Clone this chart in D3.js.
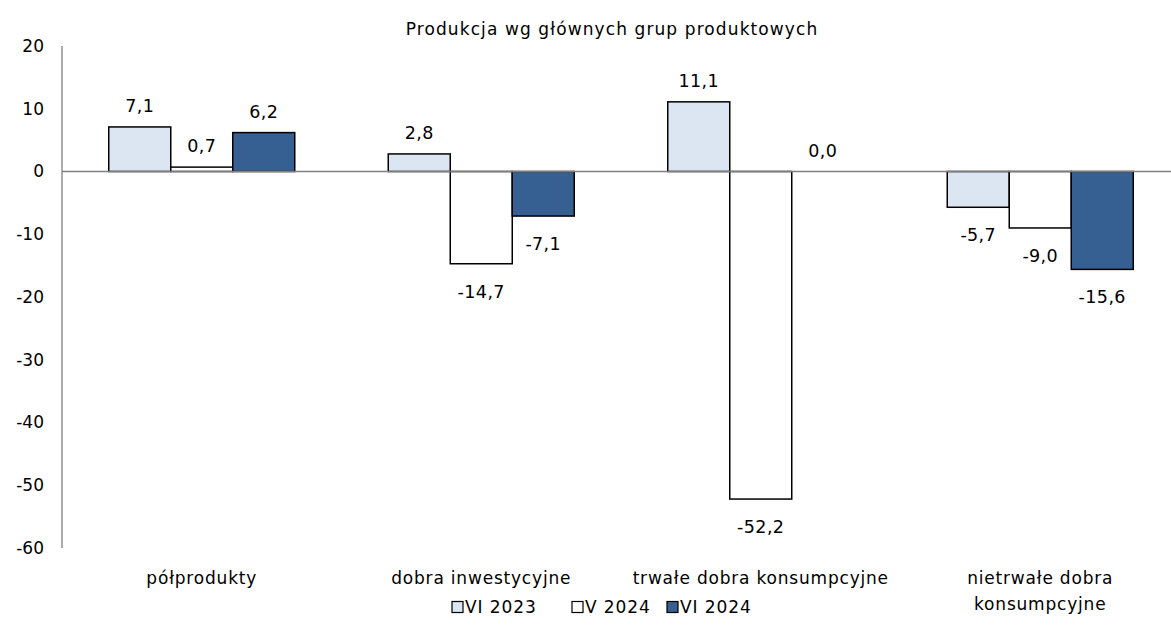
<!DOCTYPE html>
<html>
<head>
<meta charset="utf-8">
<script src="https://d3js.org/d3.v7.min.js"></script>
<style>
  body { margin: 0; background: #fff; }
  text { font-family: "DejaVu Sans", Verdana, sans-serif; fill: #000; }
</style>
</head>
<body>
<svg id="chart" width="1171" height="628"></svg>
<script>
  const categories = ["półprodukty", "dobra inwestycyjne", "trwałe dobra konsumpcyjne", "nietrwałe dobra|konsumpcyjne"];
  const seriesNames = ["VI 2023", "V 2024", "VI 2024"];
  const vi2023 = [7.1, 2.8, 11.1, -5.7];
  const v2024 = [0.7, -14.7, -52.2, -9.0];
  const vi2024 = [6.2, -7.1, 0.0, -15.6];
  const yTicks = [20, 10, 0, -10, -20, -30, -40, -50, -60];
  const colors = ["#dce6f2", "#ffffff", "#376092"];

  const series = [vi2023, v2024, vi2024];
  const svg = d3.select("#chart");
  const plotLeft = 62, plotRight = 1180, plotTop = 46, plotBottom = 548;

  const x = d3.scaleBand().domain(categories).range([plotLeft, plotRight]);
  const x1 = d3.scaleBand().domain(seriesNames).range([0, 186]);
  const y = d3.scaleLinear().domain([-60, 20]).range([plotBottom, plotTop]);

  // title
  svg.append("text")
    .attr("x", 612).attr("y", 35)
    .attr("text-anchor", "middle")
    .style("font-size", "17px")
    .style("letter-spacing", "1.1px")
    .text("Produkcja wg głównych grup produktowych");

  // y axis
  svg.append("line")
    .attr("x1", plotLeft).attr("x2", plotLeft)
    .attr("y1", y(20)).attr("y2", y(-60))
    .attr("stroke", "#808080").attr("stroke-width", 1.3);

  svg.selectAll(".ytick").data(yTicks).enter().append("text")
    .attr("class", "ytick")
    .attr("x", 44).attr("y", d => y(d))
    .attr("dy", "0.35em")
    .attr("text-anchor", "end")
    .style("font-size", "17px")
    .text(d => d);

  // bars
  const groups = svg.selectAll(".grp").data(categories).enter().append("g")
    .attr("class", "grp")
    .attr("transform", d => `translate(${x(d) + x.bandwidth() / 2 - 93},0)`);

  groups.each(function (c, ci) {
    const g = d3.select(this);
    seriesNames.forEach((s, si) => {
      const v = series[si][ci];
      g.append("rect")
        .attr("x", x1(s))
        .attr("y", y(Math.max(0, v)))
        .attr("width", x1.bandwidth())
        .attr("height", Math.abs(y(v) - y(0)))
        .attr("fill", colors[si])
        .attr("stroke", "#000")
        .attr("stroke-width", 1.5);
      g.append("text")
        .attr("x", x1(s) + x1.bandwidth() / 2)
        .attr("y", v >= 0 ? y(v) - 15 : y(v) + 34)
        .attr("text-anchor", "middle")
        .style("font-size", "17.5px")
        .style("letter-spacing", "0.4px")
        .text(v.toFixed(1).replace(".", ","));
    });
  });

  // zero line
  svg.append("line")
    .attr("x1", plotLeft).attr("x2", 1171)
    .attr("y1", y(0)).attr("y2", y(0))
    .attr("stroke", "#808080").attr("stroke-width", 1.3);

  // category labels
  svg.selectAll(".cat").data(categories).enter().append("text")
    .attr("class", "cat")
    .attr("text-anchor", "middle")
    .style("font-size", "17px")
    .style("letter-spacing", "0.8px")
    .each(function (d) {
      const t = d3.select(this);
      d.split("|").forEach((line, i) => {
        t.append("tspan")
          .attr("x", x(d) + x.bandwidth() / 2)
          .attr("y", 584 + i * 26)
          .text(line);
      });
    });

  // legend
  const legendX = [452, 572, 667];
  const leg = svg.selectAll(".leg").data(seriesNames).enter().append("g")
    .attr("class", "leg")
    .attr("transform", (d, i) => `translate(${legendX[i]},607)`);
  leg.append("rect")
    .attr("x", 0).attr("y", -5.5).attr("width", 11).attr("height", 11)
    .attr("fill", (d, i) => colors[i])
    .attr("stroke", "#000").attr("stroke-width", 1.2);
  leg.append("text")
    .attr("x", 13).attr("y", 0).attr("dy", "0.35em")
    .style("font-size", "17px")
    .style("letter-spacing", "0.9px")
    .text(d => d);
</script>
</body>
</html>
